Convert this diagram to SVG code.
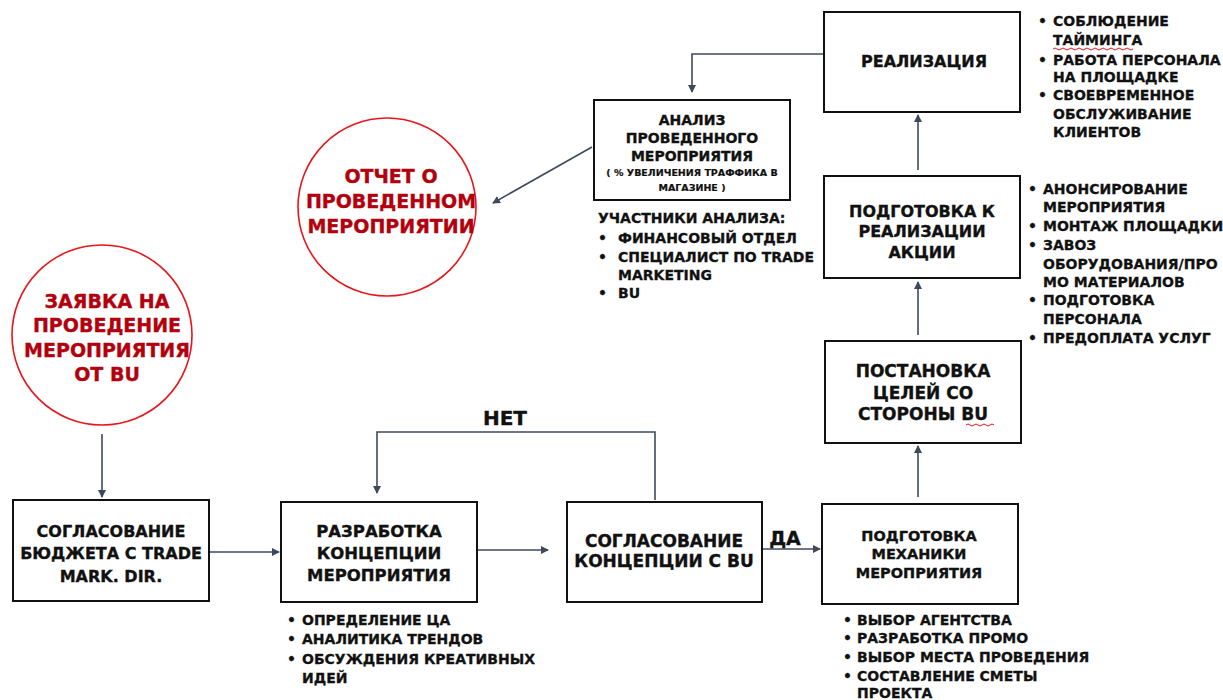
<svg xmlns="http://www.w3.org/2000/svg" width="1223" height="700" viewBox="0 0 1223 700">
<style>
.box{fill:#fff;stroke:#111;stroke-width:2}
.circ{fill:#fff;stroke:#e8151b;stroke-width:1.6}
.t{font-family:"DejaVu Sans","Liberation Sans",sans-serif;font-weight:bold;fill:#111;text-anchor:middle;stroke:#111;stroke-width:0.35}
.r{font-family:"DejaVu Sans","Liberation Sans",sans-serif;font-weight:bold;fill:#b3000c;text-anchor:middle;font-size:19px;stroke:#b3000c;stroke-width:0.35}
.b{font-family:"DejaVu Sans","Liberation Sans",sans-serif;font-weight:bold;fill:#111;font-size:14px;stroke:#111;stroke-width:0.3}
.c{fill:none;stroke:#3e4a5c;stroke-width:1.6}
.w{fill:none;stroke:#e8151b;stroke-width:1}
</style>
<defs>
<marker id="ah" markerWidth="8" markerHeight="8" refX="7" refY="4" orient="auto" markerUnits="userSpaceOnUse">
<path d="M0,0 L8,4 L0,8 z" fill="#3e4a5c"/>
</marker>
</defs>
<rect width="1223" height="700" fill="#fff"/>

<g id="connectors">
<path class="c" d="M102,434 V497" marker-end="url(#ah)"/>
<path class="c" d="M209,552 H279" marker-end="url(#ah)"/>
<path class="c" d="M477,550 H548" marker-end="url(#ah)"/>
<path class="c" d="M655,500 V432 H377 V493" marker-end="url(#ah)"/>
<path class="c" d="M762,549 H820" marker-end="url(#ah)"/>
<path class="c" d="M918,497 V446" marker-end="url(#ah)"/>
<path class="c" d="M918,335 V282" marker-end="url(#ah)"/>
<path class="c" d="M918,170 V115" marker-end="url(#ah)"/>
<path class="c" d="M824,54 H692 V92" marker-end="url(#ah)"/>
<path class="c" d="M592,147 L493,203" marker-end="url(#ah)"/>
<text class="t" x="505" y="425" style="font-size:20px">НЕТ</text>
<text class="t" x="785" y="545" style="font-size:19px">ДА</text>
</g>

<g id="node-zayavka">
<circle class="circ" cx="102" cy="335" r="90"/>
<text class="r" x="107" y="308">ЗАЯВКА НА</text>
<text class="r" x="107" y="332">ПРОВЕДЕНИЕ</text>
<text class="r" x="107" y="357">МЕРОПРИЯТИЯ</text>
<text class="r" x="107" y="381">ОТ BU</text>
</g>

<g id="node-otchet">
<circle class="circ" cx="387" cy="207" r="89"/>
<text class="r" x="391" y="183">ОТЧЕТ О</text>
<text class="r" x="391" y="208">ПРОВЕДЕННОМ</text>
<text class="r" x="391" y="233">МЕРОПРИЯТИИ</text>
</g>

<g id="node-budget">
<rect class="box" x="13" y="500" width="196" height="101"/>
<text class="t" x="111" y="537" style="font-size:16px">СОГЛАСОВАНИЕ</text>
<text class="t" x="111" y="559" style="font-size:16px">БЮДЖЕТА С TRADE</text>
<text class="t" x="111" y="582" style="font-size:16px">MARK. DIR.</text>
</g>

<g id="node-razrabotka">
<rect class="box" x="281" y="502" width="196" height="100"/>
<text class="t" x="379" y="537" style="font-size:16.5px">РАЗРАБОТКА</text>
<text class="t" x="379" y="559" style="font-size:16.5px">КОНЦЕПЦИИ</text>
<text class="t" x="379" y="581" style="font-size:16.5px">МЕРОПРИЯТИЯ</text>
<text class="b"><tspan x="287" y="625">•</tspan><tspan x="302" y="625">ОПРЕДЕЛЕНИЕ ЦА</tspan>
<tspan x="287" y="644">•</tspan><tspan x="302" y="644">АНАЛИТИКА ТРЕНДОВ</tspan>
<tspan x="287" y="664">•</tspan><tspan x="302" y="664">ОБСУЖДЕНИЯ КРЕАТИВНЫХ</tspan>
<tspan x="302" y="683">ИДЕЙ</tspan></text>
</g>

<g id="node-soglasovanie-bu">
<rect class="box" x="567" y="502" width="195" height="100"/>
<text class="t" x="664" y="547" style="font-size:17px">СОГЛАСОВАНИЕ</text>
<text class="t" x="664" y="567" style="font-size:17px">КОНЦЕПЦИИ С BU</text>
</g>

<g id="node-mehanika">
<rect class="box" x="822" y="504" width="196" height="100"/>
<text class="t" x="919" y="541" style="font-size:14.5px">ПОДГОТОВКА</text>
<text class="t" x="919" y="559" style="font-size:14.5px">МЕХАНИКИ</text>
<text class="t" x="919" y="578" style="font-size:14.5px">МЕРОПРИЯТИЯ</text>
<text class="b"><tspan x="843" y="625">•</tspan><tspan x="857" y="625">ВЫБОР АГЕНТСТВА</tspan>
<tspan x="843" y="643">•</tspan><tspan x="857" y="643">РАЗРАБОТКА ПРОМО</tspan>
<tspan x="843" y="662">•</tspan><tspan x="857" y="662">ВЫБОР МЕСТА ПРОВЕДЕНИЯ</tspan>
<tspan x="843" y="681">•</tspan><tspan x="857" y="681">СОСТАВЛЕНИЕ СМЕТЫ</tspan>
<tspan x="857" y="698">ПРОЕКТА</tspan></text>
</g>

<g id="node-postanovka">
<rect class="box" x="825" y="341" width="196" height="102"/>
<text class="t" x="923" y="377" style="font-size:17px">ПОСТАНОВКА</text>
<text class="t" x="923" y="399" style="font-size:17px">ЦЕЛЕЙ СО</text>
<text class="t" x="923" y="420" style="font-size:17px">СТОРОНЫ BU</text>
<path class="w" d="M966,425 q2,-2 4,0 t4,0 t4,0 t4,0 t4,0 t4,0 t4,0"/>
</g>

<g id="node-podgotovka-realiz">
<rect class="box" x="824" y="176" width="196" height="102"/>
<text class="t" x="922" y="217" style="font-size:16px">ПОДГОТОВКА К</text>
<text class="t" x="922" y="237" style="font-size:16px">РЕАЛИЗАЦИИ</text>
<text class="t" x="922" y="258" style="font-size:16px">АКЦИИ</text>
<text class="b"><tspan x="1028" y="194">•</tspan><tspan x="1043" y="194">АНОНСИРОВАНИЕ</tspan>
<tspan x="1043" y="212">МЕРОПРИЯТИЯ</tspan>
<tspan x="1028" y="231">•</tspan><tspan x="1043" y="231">МОНТАЖ ПЛОЩАДКИ</tspan>
<tspan x="1028" y="250">•</tspan><tspan x="1043" y="250">ЗАВОЗ</tspan>
<tspan x="1043" y="269">ОБОРУДОВАНИЯ/ПРО</tspan>
<tspan x="1043" y="287">МО МАТЕРИАЛОВ</tspan>
<tspan x="1028" y="305">•</tspan><tspan x="1043" y="305">ПОДГОТОВКА</tspan>
<tspan x="1043" y="324">ПЕРСОНАЛА</tspan>
<tspan x="1028" y="343">•</tspan><tspan x="1043" y="343">ПРЕДОПЛАТА УСЛУГ</tspan></text>
</g>

<g id="node-realizaciya">
<rect class="box" x="824" y="12" width="196" height="100"/>
<text class="t" x="924" y="67" style="font-size:16px">РЕАЛИЗАЦИЯ</text>
<text class="b"><tspan x="1038" y="26">•</tspan><tspan x="1053" y="26">СОБЛЮДЕНИЕ</tspan>
<tspan x="1053" y="45">ТАЙМИНГА</tspan>
<tspan x="1038" y="65">•</tspan><tspan x="1053" y="65">РАБОТА ПЕРСОНАЛА</tspan>
<tspan x="1053" y="82">НА ПЛОЩАДКЕ</tspan>
<tspan x="1038" y="100">•</tspan><tspan x="1053" y="100">СВОЕВРЕМЕННОЕ</tspan>
<tspan x="1053" y="119">ОБСЛУЖИВАНИЕ</tspan>
<tspan x="1053" y="137">КЛИЕНТОВ</tspan></text>
<path class="w" d="M1053,49 q2,-2 4,0 t4,0 t4,0 t4,0 t4,0 t4,0 t4,0 t4,0 t4,0 t4,0 t4,0 t4,0 t4,0 t4,0 t4,0 t4,0 t4,0 t4,0 t4,0 t4,0"/>
</g>

<g id="node-analiz">
<rect class="box" x="594" y="100" width="196" height="100"/>
<text class="t" x="692" y="125" style="font-size:14px">АНАЛИЗ</text>
<text class="t" x="692" y="143" style="font-size:14px">ПРОВЕДЕННОГО</text>
<text class="t" x="692" y="161" style="font-size:14px">МЕРОПРИЯТИЯ</text>
<text class="t" x="692" y="176" style="font-size:9.5px;stroke-width:0.2">( % УВЕЛИЧЕНИЯ ТРАФФИКА В</text>
<text class="t" x="692" y="191" style="font-size:9.5px;stroke-width:0.2">МАГАЗИНЕ )</text>
<text class="b"><tspan x="598" y="223">УЧАСТНИКИ АНАЛИЗА:</tspan>
<tspan x="598" y="243">•</tspan><tspan x="618" y="243">ФИНАНСОВЫЙ ОТДЕЛ</tspan>
<tspan x="598" y="262">•</tspan><tspan x="618" y="262">СПЕЦИАЛИСТ ПО TRADE</tspan>
<tspan x="618" y="280">MARKETING</tspan>
<tspan x="598" y="298">•</tspan><tspan x="618" y="298">BU</tspan></text>
</g>
</svg>
